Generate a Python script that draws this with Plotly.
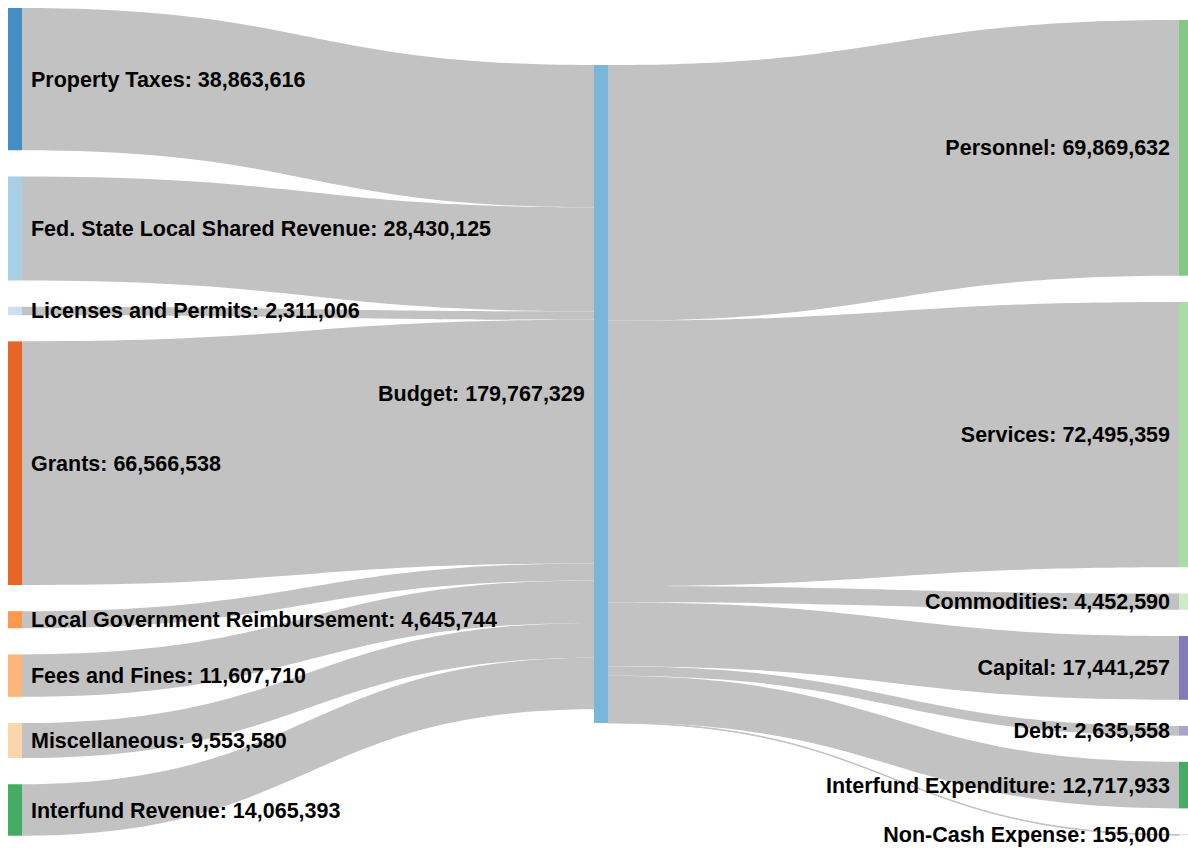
import plotly.graph_objects as go

# Revenue sources flowing into the budget
revenue_names = [
    "Property Taxes",
    "Fed. State Local Shared Revenue",
    "Licenses and Permits",
    "Grants",
    "Local Government Reimbursement",
    "Fees and Fines",
    "Miscellaneous",
    "Interfund Revenue",
]
revenue_values = [
    38863616, 28430125, 2311006, 66566538,
    4645744, 11607710, 9553580, 14065393,
]

# Expenditure categories the budget flows out to
expense_names = [
    "Personnel",
    "Services",
    "Commodities",
    "Capital",
    "Debt",
    "Interfund Expenditure",
    "Non-Cash Expense",
]
expense_values = [
    69869632, 72495359, 4452590, 17441257,
    2635558, 12717933, 155000,
]

budget_name = "Budget"
budget_value = sum(expense_values)

# ---- layout / styling ----
W, H = 1188, 848
KY = 3.66 / 1e6          # px per dollar used by the layout
GAP = 26.2               # px between stacked nodes in a column
THICK = 14
LEFT_TOP, RIGHT_TOP, BUDGET_CENTER = 8, 20, 394
LEFT_CX, MID_CX, RIGHT_CX = 15, 601, 1186
FONT = dict(family="Liberation Sans, Arial, sans-serif", size=21.5,
            color="#000", weight="bold")
PAD = "\u00a0"           # extra spacing between a node and its label


def stack_centers(values, top):
    centers, y = [], top
    for v in values:
        h = v * KY
        centers.append((y + h / 2) / H)
        y += h + GAP
    return centers


palette = ["#3182bd", "#6baed6", "#9ecae1", "#c6dbef", "#e6550d", "#fd8d3c",
           "#fdae6b", "#fdd0a2", "#31a354", "#74c476", "#a1d99b", "#c7e9c0",
           "#756bb1", "#9e9ac8", "#bcbddc"]
color_keys = {}


def node_color(name):
    key = name.split(" ")[0]
    if key not in color_keys:
        color_keys[key] = palette[len(color_keys) % len(palette)]
    h = color_keys[key].lstrip("#")
    r, g, b = (int(h[i:i + 2], 16) for i in (0, 2, 4))
    return f"rgba({r},{g},{b},0.9)"


names = [revenue_names[0], budget_name] + revenue_names[1:] + expense_names
values = [revenue_values[0], budget_value] + revenue_values[1:] + expense_values
colors = [node_color(n) for n in names]

labels = []
for n, v in zip(names, values):
    if n == budget_name:
        labels.append("")                       # drawn as an annotation on the left
    elif n in expense_names:
        labels.append(f"{n}: {v:,}{PAD}")
    else:
        labels.append(f"{PAD}{n}: {v:,}")

left_y = stack_centers(revenue_values, LEFT_TOP)
right_y = stack_centers(expense_values, RIGHT_TOP)
left_x, mid_x, right_x = LEFT_CX / W, MID_CX / W, RIGHT_CX / W

node_x = [left_x, mid_x] + [left_x] * (len(revenue_names) - 1) + [right_x] * len(expense_names)
node_y = [left_y[0], BUDGET_CENTER / H] + left_y[1:] + right_y

idx = {n: i for i, n in enumerate(names)}
src, tgt, val = [], [], []
for n, v in zip(revenue_names, revenue_values):
    src.append(idx[n]); tgt.append(idx[budget_name]); val.append(v)
for n, v in zip(expense_names, expense_values):
    src.append(idx[budget_name]); tgt.append(idx[n]); val.append(v)

fig = go.Figure(go.Sankey(
    arrangement="fixed",
    node=dict(
        label=labels,
        x=node_x,
        y=node_y,
        color=colors,
        thickness=THICK,
        pad=29.1,
        line=dict(width=0),
    ),
    link=dict(source=src, target=tgt, value=val, color="rgb(194,194,194)"),
    textfont=dict(**FONT, shadow="none"),
))

# Budget label sits to the left of the middle node
fig.add_annotation(
    text=f"{budget_name}: {budget_value:,}",
    xref="paper", yref="paper",
    x=(MID_CX - THICK / 2 - 7) / W, y=1 - BUDGET_CENTER / H,
    xanchor="right", yanchor="middle",
    showarrow=False, font=FONT,
)

fig.update_layout(
    width=W, height=H,
    margin=dict(l=0, r=0, t=0, b=0),
    paper_bgcolor="white",
)
fig.write_html("out.html")
